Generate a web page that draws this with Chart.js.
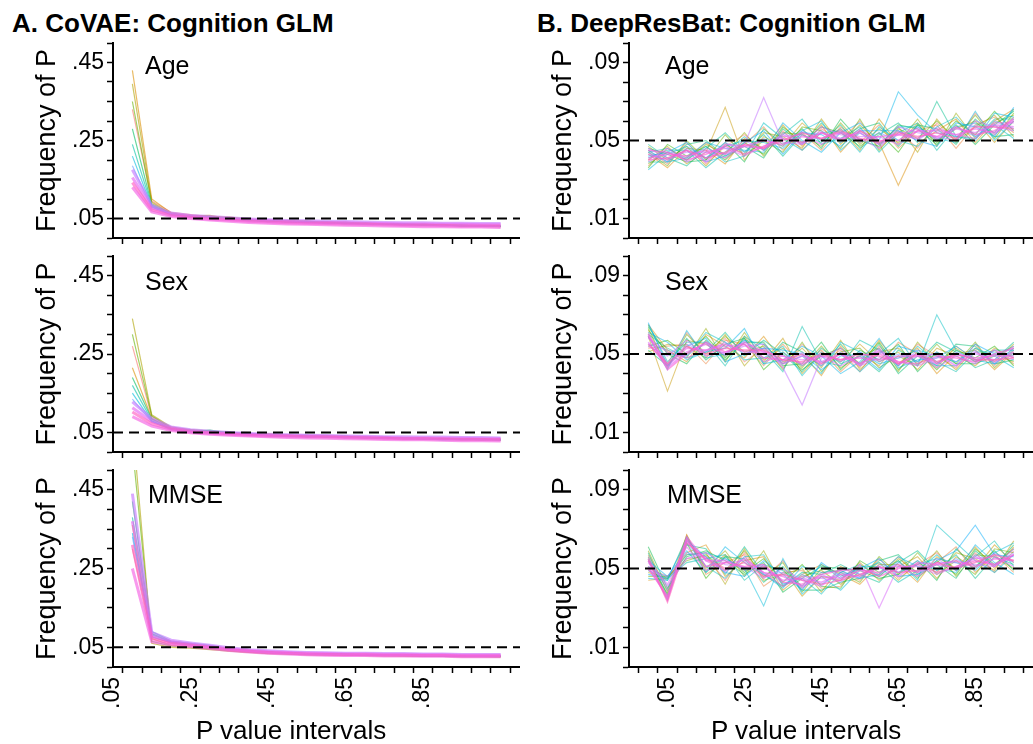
<!DOCTYPE html>
<html>
<head>
<meta charset="utf-8">
<script src="https://cdn.jsdelivr.net/npm/chart.js@4.4.0/dist/chart.umd.min.js"></script>
<style>
  body { margin: 0; background: #fff; width: 1033px; height: 744px; overflow: hidden; position: relative;
         font-family: "Liberation Sans", Arial, Helvetica, sans-serif; }
  canvas { position: absolute; }
  .txt { position: absolute; line-height: 1; white-space: nowrap; color: #000; }
  .titulo { font-weight: bold; font-size: 26px; }
  .painel { font-size: 25px; }
  .eixo { font-size: 26px; }
</style>
</head>
<body>
<div class="txt titulo" style="left:12px;top:10px">A. CoVAE: Cognition GLM</div>
<div class="txt titulo" style="left:537px;top:10px">B. DeepResBat: Cognition GLM</div>

<canvas id="aAge" width="520" height="215" style="left:0;top:30px"></canvas>
<canvas id="aSex" width="520" height="214" style="left:0;top:245px"></canvas>
<canvas id="aMmse" width="520" height="286" style="left:0;top:458px"></canvas>
<canvas id="bAge" width="513" height="215" style="left:520px;top:30px"></canvas>
<canvas id="bSex" width="513" height="214" style="left:520px;top:245px"></canvas>
<canvas id="bMmse" width="513" height="286" style="left:520px;top:458px"></canvas>

<div class="txt painel" style="left:145px;top:53px">Age</div>
<div class="txt painel" style="left:145px;top:269px">Sex</div>
<div class="txt painel" style="left:148px;top:482px">MMSE</div>
<div class="txt painel" style="left:665px;top:53px">Age</div>
<div class="txt painel" style="left:665px;top:269px">Sex</div>
<div class="txt painel" style="left:667px;top:482px">MMSE</div>

<div class="txt eixo" style="left:196px;top:717px">P value intervals</div>
<div class="txt eixo" style="left:711px;top:717px">P value intervals</div>

<script>
// P value bins (x) for each column
var xLeft = [0.10, 0.15, 0.20, 0.25, 0.30, 0.35, 0.40, 0.45, 0.50, 0.55, 0.60, 0.65, 0.70, 0.75, 0.80, 0.85, 0.90, 0.95, 1.00, 1.05];
var xRight = [0.00, 0.05, 0.10, 0.15, 0.20, 0.25, 0.30, 0.35, 0.40, 0.45, 0.50, 0.55, 0.60, 0.65, 0.70, 0.75, 0.80, 0.85, 0.90, 0.95];

var xLabels = ['.05', '.25', '.45', '.65', '.85'];
var xLabelPos = [0.05, 0.25, 0.45, 0.65, 0.85];
var yLabelsLeft = ['.05', '.25', '.45'];
var yLabelPosLeft = [0.05, 0.25, 0.45];
var yLabelsRight = ['.01', '.05', '.09'];
var yLabelPosRight = [0.01, 0.05, 0.09];
var refLevel = 0.05;

// CoVAE
var covaeAge = [
  [.330,.095,.066,.060,.055,.052,.049,.046,.044,.043,.041,.040,.038,.037,.036,.035,.034,.033,.033,.031],
  [.430,.100,.064,.056,.058,.050,.046,.043,.045,.041,.040,.041,.036,.036,.034,.036,.033,.032,.030,.029],
  [.395,.092,.062,.058,.053,.054,.047,.044,.042,.040,.042,.038,.039,.035,.037,.033,.035,.031,.032,.030],
  [.350,.088,.063,.055,.056,.049,.048,.042,.043,.044,.039,.037,.038,.036,.033,.034,.032,.033,.031,.030],
  [.280,.085,.060,.057,.052,.051,.044,.045,.040,.042,.038,.039,.035,.037,.035,.032,.034,.030,.032,.029],
  [.240,.082,.061,.054,.054,.048,.046,.041,.043,.039,.040,.036,.037,.034,.036,.034,.031,.033,.030,.031],
  [.210,.080,.059,.056,.051,.050,.045,.043,.041,.041,.037,.038,.036,.035,.033,.035,.033,.031,.031,.030],
  [.185,.078,.062,.053,.053,.047,.047,.044,.042,.040,.039,.037,.037,.036,.035,.033,.032,.032,.031,.031],
  [.175,.084,.064,.058,.055,.052,.049,.047,.045,.044,.043,.042,.041,.040,.039,.039,.038,.038,.037,.037],
  [.155,.077,.061,.056,.052,.049,.046,.044,.042,.041,.040,.039,.038,.037,.036,.036,.035,.035,.034,.034],
  [.142,.072,.058,.053,.049,.046,.043,.041,.039,.038,.037,.036,.035,.034,.033,.033,.032,.031,.031,.031],
  [.130,.067,.055,.050,.046,.043,.040,.038,.036,.035,.034,.033,.032,.031,.030,.029,.029,.028,.028,.027]
];
var covaeSex = [
  [.270,.090,.062,.055,.050,.048,.046,.044,.042,.041,.040,.039,.037,.036,.036,.035,.034,.033,.033,.032],
  [.215,.086,.060,.053,.052,.047,.045,.047,.041,.040,.041,.038,.038,.035,.034,.036,.033,.034,.032,.031],
  [.340,.095,.064,.056,.051,.050,.044,.043,.043,.039,.039,.040,.036,.037,.035,.033,.035,.032,.031,.033],
  [.300,.092,.061,.057,.054,.048,.047,.042,.040,.042,.038,.037,.039,.034,.036,.034,.032,.033,.034,.030],
  [.190,.084,.059,.052,.056,.049,.043,.045,.044,.038,.040,.041,.035,.036,.033,.035,.034,.031,.032,.031],
  [.170,.080,.058,.050,.049,.051,.046,.041,.042,.043,.037,.038,.037,.038,.035,.032,.033,.034,.031,.032],
  [.150,.078,.057,.054,.048,.046,.048,.044,.039,.041,.042,.036,.038,.035,.037,.034,.031,.032,.033,.030],
  [.135,.077,.060,.053,.050,.047,.044,.043,.041,.040,.039,.038,.036,.036,.035,.034,.033,.033,.032,.032],
  [.128,.085,.064,.057,.053,.050,.047,.045,.044,.043,.042,.041,.040,.039,.039,.038,.038,.037,.037,.036],
  [.113,.078,.061,.054,.050,.047,.045,.043,.042,.041,.040,.039,.038,.037,.036,.036,.035,.035,.034,.034],
  [.102,.072,.058,.051,.048,.045,.043,.041,.040,.039,.038,.037,.036,.035,.034,.034,.033,.032,.032,.031],
  [.090,.066,.055,.049,.045,.043,.041,.039,.037,.036,.035,.034,.033,.032,.031,.031,.030,.029,.029,.028]
];
var covaeMmse = [
  [.300,.078,.060,.055,.050,.044,.040,.037,.035,.034,.033,.032,.031,.030,.030,.029,.029,.028,.028,.027],
  [.360,.072,.055,.052,.047,.041,.038,.036,.034,.033,.032,.031,.030,.030,.029,.028,.028,.027,.027,.027],
  [.620,.060,.050,.048,.044,.040,.037,.034,.033,.031,.031,.030,.029,.028,.028,.028,.027,.026,.026,.026],
  [.560,.065,.053,.050,.046,.042,.039,.035,.033,.032,.031,.030,.030,.029,.028,.027,.027,.026,.026,.025],
  [.420,.085,.064,.058,.052,.045,.041,.038,.036,.034,.033,.032,.031,.031,.030,.029,.028,.028,.027,.027],
  [.380,.090,.066,.060,.055,.047,.042,.039,.036,.034,.033,.033,.032,.031,.030,.030,.029,.028,.028,.028],
  [.340,.082,.063,.056,.053,.046,.041,.038,.035,.034,.033,.032,.031,.030,.030,.029,.029,.028,.027,.028],
  [.330,.076,.062,.056,.051,.045,.040,.037,.035,.034,.033,.032,.031,.030,.030,.029,.029,.028,.028,.028],
  [.440,.088,.068,.061,.055,.049,.044,.041,.039,.037,.036,.035,.035,.034,.034,.033,.033,.032,.032,.032],
  [.370,.079,.064,.058,.052,.046,.042,.039,.037,.035,.034,.033,.033,.032,.032,.031,.031,.030,.030,.030],
  [.310,.072,.060,.055,.050,.044,.040,.037,.035,.033,.032,.031,.031,.030,.030,.029,.029,.028,.028,.028],
  [.250,.064,.056,.052,.047,.042,.038,.035,.033,.031,.030,.029,.029,.028,.028,.027,.027,.026,.026,.026]
];

// DeepResBat
var drbAge = [
  [.045,.038,.049,.038,.047,.053,.045,.055,.045,.056,.050,.060,.046,.055,.046,.059,.050,.064,.053,.062],
  [.037,.046,.041,.049,.041,.048,.057,.045,.054,.045,.057,.049,.058,.046,.055,.058,.046,.058,.062,.054],
  [.043,.036,.046,.045,.038,.051,.046,.058,.047,.058,.044,.055,.049,.027,.048,.055,.061,.049,.060,.066],
  [.040,.047,.038,.044,.067,.040,.052,.047,.059,.050,.056,.045,.061,.048,.059,.050,.056,.060,.049,.060],
  [.047,.040,.047,.037,.048,.043,.054,.052,.046,.061,.048,.058,.048,.057,.044,.061,.049,.057,.063,.052],
  [.038,.044,.040,.048,.043,.054,.042,.054,.053,.047,.059,.048,.056,.049,.061,.047,.064,.051,.059,.063],
  [.044,.037,.050,.040,.053,.042,.050,.044,.057,.055,.046,.061,.045,.056,.051,.060,.051,.063,.051,.064],
  [.036,.048,.042,.047,.040,.049,.043,.057,.049,.057,.054,.047,.054,.044,.058,.049,.060,.053,.065,.055],
  [.046,.043,.039,.040,.049,.039,.056,.048,.056,.046,.061,.050,.047,.058,.056,.048,.058,.048,.058,.065],
  [.039,.039,.048,.050,.042,.047,.041,.056,.048,.059,.049,.056,.059,.047,.058,.056,.048,.061,.052,.053],
  [.048,.041,.037,.046,.054,.044,.053,.042,.053,.049,.058,.046,.053,.059,.049,.070,.052,.051,.061,.061],
  [.041,.045,.045,.036,.044,.052,.045,.053,.061,.048,.051,.057,.044,.054,.059,.045,.057,.059,.054,.066],
  [.044,.046,.040,.047,.039,.042,.059,.051,.045,.054,.055,.044,.057,.050,.047,.057,.062,.052,.058,.051],
  [.035,.043,.047,.041,.047,.050,.049,.046,.055,.060,.045,.054,.048,.057,.057,.051,.049,.065,.050,.060],
  [.045,.039,.041,.049,.046,.045,.044,.059,.050,.044,.054,.059,.050,.075,.063,.054,.052,.050,.064,.062],
  [.042,.044,.049,.039,.042,.049,.055,.043,.054,.053,.047,.055,.055,.055,.050,.047,.059,.057,.052,.067],
  [.044,.039,.046,.041,.049,.044,.051,.047,.055,.050,.056,.049,.054,.050,.057,.050,.057,.052,.060,.056],
  [.039,.044,.041,.046,.043,.050,.045,.054,.049,.055,.049,.056,.049,.055,.050,.057,.052,.058,.053,.061],
  [.046,.041,.044,.044,.041,.048,.072,.049,.048,.057,.053,.051,.046,.057,.054,.052,.050,.060,.057,.055],
  [.040,.046,.039,.044,.046,.042,.047,.052,.053,.048,.054,.052,.052,.048,.055,.055,.053,.051,.059,.059],
  [.043,.040,.045,.039,.048,.047,.046,.053,.048,.054,.051,.054,.048,.053,.056,.051,.056,.054,.058,.057],
  [.041,.043,.042,.045,.043,.047,.050,.048,.052,.051,.054,.050,.052,.053,.051,.056,.053,.056,.054,.060],
  [.045,.044,.040,.043,.047,.043,.047,.051,.049,.054,.050,.055,.050,.050,.055,.052,.057,.053,.055,.061],
  [.040,.041,.045,.041,.044,.048,.046,.050,.054,.051,.055,.051,.049,.054,.052,.054,.051,.057,.057,.056]
];
var drbSex = [
  [.061,.045,.061,.049,.058,.046,.053,.043,.055,.045,.052,.041,.054,.044,.055,.049,.043,.055,.044,.053],
  [.053,.054,.055,.045,.057,.055,.044,.055,.044,.052,.041,.050,.044,.056,.050,.043,.054,.047,.052,.045],
  [.065,.052,.046,.060,.054,.048,.059,.046,.050,.039,.054,.043,.057,.045,.053,.040,.050,.052,.042,.051],
  [.059,.031,.057,.055,.049,.059,.046,.058,.040,.051,.046,.055,.046,.051,.042,.053,.049,.044,.053,.048],
  [.051,.055,.054,.048,.060,.044,.055,.045,.053,.043,.057,.042,.051,.053,.045,.050,.042,.053,.046,.055],
  [.062,.051,.048,.063,.046,.061,.047,.053,.043,.054,.043,.049,.053,.041,.056,.045,.053,.046,.050,.046],
  [.063,.043,.060,.050,.059,.051,.054,.042,.056,.041,.051,.053,.043,.049,.044,.055,.045,.056,.043,.052],
  [.054,.057,.050,.059,.048,.058,.042,.051,.042,.049,.053,.045,.056,.042,.051,.042,.052,.048,.054,.044],
  [.064,.050,.045,.057,.047,.056,.056,.044,.045,.056,.042,.052,.047,.055,.041,.051,.045,.045,.049,.054],
  [.052,.044,.058,.047,.055,.058,.045,.056,.051,.044,.055,.044,.055,.040,.049,.044,.055,.054,.045,.047],
  [.060,.053,.048,.051,.061,.049,.057,.050,.041,.053,.045,.049,.041,.052,.046,.056,.051,.043,.047,.056],
  [.065,.046,.056,.056,.044,.059,.052,.041,.064,.046,.044,.057,.052,.044,.054,.046,.041,.051,.051,.049],
  [.050,.050,.049,.061,.056,.047,.048,.054,.039,.050,.050,.041,.050,.058,.044,.070,.052,.046,.052,.052],
  [.059,.042,.062,.048,.050,.057,.055,.045,.049,.040,.056,.051,.045,.048,.052,.049,.046,.053,.049,.043],
  [.061,.056,.047,.051,.053,.063,.045,.047,.054,.049,.040,.046,.058,.043,.047,.048,.054,.047,.045,.053],
  [.066,.044,.054,.058,.046,.050,.053,.052,.050,.042,.049,.050,.042,.054,.051,.044,.044,.055,.050,.050],
  [.055,.052,.049,.056,.049,.057,.048,.051,.044,.051,.046,.051,.046,.050,.046,.051,.046,.052,.045,.052],
  [.060,.045,.055,.051,.056,.050,.053,.046,.051,.044,.051,.045,.053,.044,.052,.045,.051,.047,.050,.047],
  [.054,.049,.057,.049,.051,.054,.055,.043,.024,.048,.053,.044,.048,.048,.050,.043,.049,.050,.047,.054],
  [.058,.051,.048,.052,.054,.055,.046,.049,.047,.049,.044,.049,.051,.046,.044,.048,.049,.045,.052,.048],
  [.056,.043,.051,.055,.050,.056,.051,.045,.049,.046,.050,.044,.052,.045,.049,.050,.044,.051,.046,.051],
  [.059,.044,.053,.052,.055,.051,.051,.049,.045,.049,.047,.048,.047,.049,.049,.045,.050,.048,.049,.049],
  [.060,.042,.050,.056,.051,.055,.048,.047,.050,.045,.050,.045,.050,.046,.045,.049,.048,.046,.050,.053],
  [.055,.045,.054,.050,.053,.052,.052,.047,.046,.050,.047,.050,.049,.045,.050,.046,.050,.047,.047,.048]
];
var drbMmse = [
  [.050,.046,.055,.056,.044,.058,.045,.054,.040,.048,.049,.044,.055,.045,.052,.058,.049,.058,.048,.059],
  [.057,.039,.067,.047,.053,.057,.041,.048,.049,.040,.041,.052,.047,.056,.046,.053,.061,.048,.057,.048],
  [.044,.045,.058,.062,.046,.054,.056,.039,.047,.052,.047,.042,.052,.052,.043,.056,.050,.061,.050,.061],
  [.056,.035,.067,.049,.057,.049,.051,.050,.036,.046,.044,.053,.044,.051,.056,.045,.056,.050,.062,.053],
  [.048,.045,.057,.058,.042,.060,.044,.047,.050,.038,.051,.046,.053,.044,.053,.048,.058,.055,.049,.064],
  [.059,.038,.065,.050,.059,.046,.059,.041,.046,.049,.042,.050,.046,.055,.048,.059,.046,.057,.056,.050],
  [.046,.046,.054,.057,.049,.059,.046,.053,.038,.050,.048,.043,.056,.047,.058,.047,.054,.047,.060,.058],
  [.054,.037,.063,.045,.056,.048,.055,.043,.052,.041,.040,.054,.048,.054,.045,.054,.047,.060,.052,.060],
  [.061,.040,.056,.059,.054,.047,.053,.038,.045,.051,.050,.049,.045,.047,.054,.044,.060,.051,.059,.049],
  [.049,.044,.066,.048,.056,.055,.043,.051,.039,.039,.043,.045,.054,.057,.047,.052,.045,.059,.051,.062],
  [.058,.036,.062,.060,.047,.061,.047,.041,.048,.047,.052,.047,.043,.053,.059,.049,.057,.045,.056,.052],
  [.051,.045,.053,.055,.057,.044,.052,.049,.041,.052,.045,.051,.051,.043,.049,.057,.049,.056,.064,.051],
  [.055,.034,.066,.051,.045,.056,.057,.042,.045,.037,.048,.052,.046,.054,.044,.072,.063,.054,.048,.057],
  [.045,.044,.057,.058,.055,.050,.031,.055,.037,.046,.039,.049,.053,.048,.052,.055,.053,.049,.058,.063],
  [.054,.046,.059,.048,.061,.053,.047,.040,.051,.048,.049,.045,.047,.056,.051,.050,.048,.062,.053,.047],
  [.047,.045,.064,.056,.048,.046,.054,.047,.039,.053,.046,.050,.055,.046,.047,.054,.059,.072,.057,.056],
  [.056,.039,.063,.051,.055,.049,.052,.042,.047,.042,.048,.045,.052,.048,.054,.049,.055,.050,.058,.053],
  [.049,.046,.058,.056,.048,.056,.047,.048,.040,.047,.043,.050,.047,.053,.048,.055,.049,.057,.052,.058],
  [.053,.041,.055,.058,.052,.051,.045,.050,.044,.041,.050,.047,.050,.051,.046,.053,.053,.052,.051,.060],
  [.054,.042,.061,.049,.053,.054,.048,.041,.046,.045,.044,.052,.030,.051,.051,.047,.051,.055,.056,.051],
  [.051,.035,.064,.054,.054,.050,.051,.044,.045,.043,.047,.046,.051,.046,.053,.052,.050,.056,.051,.057],
  [.054,.034,.066,.054,.049,.055,.048,.046,.041,.046,.045,.049,.048,.052,.048,.052,.054,.051,.055,.054],
  [.050,.036,.065,.051,.053,.051,.052,.043,.042,.047,.049,.050,.046,.050,.052,.048,.051,.054,.052,.057],
  [.055,.033,.063,.055,.050,.053,.046,.047,.044,.042,.044,.047,.051,.048,.049,.053,.050,.053,.057,.054]
];

var coresA = ['#F8766D99', '#DB8E0099', '#AEA20099', '#64B20099', '#00BD5C99', '#00C1A799', '#00BADE99', '#619CFF99',
              '#C77CFFA8', '#E76BF3A8', '#FF61C3A8', '#F564E3A8'];
var largA = [1.2, 1.2, 1.2, 1.2, 1.2, 1.2, 1.2, 1.2, 3, 3, 3, 3];
var coresB = ['#F8766D80', '#EC823980', '#DB8E0080', '#C7980080', '#AFA10080', '#94AA0080', '#6FB10080', '#2CB60080',
              '#00BA4280', '#00BD6D80', '#00BF8E80', '#00C0AB80', '#00BFC480', '#00BCDA80', '#00B6EC80', '#00ACFC80',
              '#619CFF80', '#9590FF80', '#C77CFF90', '#DC71FA90', '#E36EF6A0', '#F166E8A0', '#FB61D7A0', '#FF62BCA0'];
var largB = [1.1, 1.1, 1.1, 1.1, 1.1, 1.1, 1.1, 1.1, 1.1, 1.1, 1.1, 1.1,
             1.1, 1.1, 1.1, 1.1, 1.1, 1.1, 1.3, 1.3, 1.6, 1.6, 1.6, 1.6];

Chart.defaults.font.family = '"Liberation Sans", Arial, Helvetica, sans-serif';
Chart.defaults.color = '#000';

function perto(lista, v) {
  for (var k = 0; k < lista.length; k++) {
    if (Math.abs(lista[k] - v) < 0.001) return k;
  }
  return -1;
}

function grafico(id, lado, series, cores, larguras, padTop, xAltura, comRotulos) {
  var xs = lado == 'esq' ? xLeft : xRight;
  var xMin = lado == 'esq' ? 0.05 : -0.05;
  var xMax = lado == 'esq' ? 1.10 : 1.00;
  var yMax = lado == 'esq' ? 0.5 : 0.1;
  var passo = lado == 'esq' ? 0.05 : 0.01;
  var yPos = lado == 'esq' ? yLabelPosLeft : yLabelPosRight;
  var yTxt = lado == 'esq' ? yLabelsLeft : yLabelsRight;

  var datasets = [];
  for (var i = 0; i < series.length; i++) {
    var pts = [];
    for (var j = 0; j < xs.length; j++) pts.push({x: xs[j], y: series[i][j]});
    datasets.push({
      data: pts, borderColor: cores[i], borderWidth: larguras[i],
      pointRadius: 0, tension: 0, order: series.length - i + 1
    });
  }
  // dashed line at .05
  datasets.push({
    data: [{x: xMin, y: refLevel}, {x: xMax, y: refLevel}],
    borderColor: '#000', borderWidth: 2, borderDash: [10, 6], pointRadius: 0, order: 0
  });

  var ctx = document.getElementById(id).getContext('2d');
  return new Chart(ctx, {
    type: 'line',
    data: {datasets: datasets},
    options: {
      responsive: false,
      animation: false,
      devicePixelRatio: 1,
      layout: {padding: {top: padTop, left: 0, right: 0, bottom: 0}},
      plugins: {legend: {display: false}, tooltip: {enabled: false}},
      scales: {
        x: {
          type: 'linear', min: xMin, max: xMax,
          afterBuildTicks: function (scale) {
            var t = [];
            var ini = xMin + 0.025;
            for (var k = 0; k <= 20; k++) t.push({value: Math.round((ini + k * 0.05) * 1000) / 1000});
            for (var k = 0; k < xLabelPos.length; k++) t.push({value: xLabelPos[k]});
            t.sort(function (a, b) { return a.value - b.value; });
            scale.ticks = t;
          },
          afterFit: function (scale) {
            scale.height = xAltura;
            scale.paddingLeft = 0;
            scale.paddingRight = 0;
          },
          border: {display: true, color: '#000', width: 2},
          grid: {
            drawOnChartArea: false, drawTicks: true, tickLength: 6, tickWidth: 1.5,
            tickColor: function (c) { return perto(xLabelPos, c.tick.value) >= 0 ? 'rgba(0,0,0,0)' : '#000'; }
          },
          ticks: {
            autoSkip: false, minRotation: 90, maxRotation: 90, padding: 4, color: '#000',
            font: {size: 23},
            callback: function (v) {
              var k = perto(xLabelPos, v);
              return (comRotulos && k >= 0) ? xLabels[k] : '';
            }
          }
        },
        y: {
          min: 0, max: yMax,
          afterBuildTicks: function (scale) {
            var t = [];
            var n = Math.round(yMax / passo);
            for (var k = 0; k <= n; k++) t.push({value: Math.round(k * passo * 1000) / 1000});
            scale.ticks = t;
          },
          afterFit: function (scale) {
            scale.width = lado == 'esq' ? 113 : 109;
            scale.paddingTop = 0;
            scale.paddingBottom = 0;
          },
          border: {display: true, color: '#000', width: 2},
          grid: {drawOnChartArea: false, drawTicks: true, tickLength: 6, tickWidth: 1.5, tickColor: '#000'},
          ticks: {
            autoSkip: false, padding: 3, color: '#000', font: {size: 23},
            callback: function (v) {
              var k = perto(yPos, v);
              return k >= 0 ? yTxt[k] : '';
            }
          },
          title: {
            display: true, text: 'Frequency of P', color: '#000', font: {size: 27},
            padding: {top: lado == 'esq' ? 31 : 27, bottom: 0}
          }
        }
      }
    }
  });
}

grafico('aAge', 'esq', covaeAge, coresA, largA, 13, 7, false);
grafico('aSex', 'esq', covaeSex, coresA, largA, 11, 7, false);
grafico('aMmse', 'esq', covaeMmse, coresA, largA, 12, 77, true);
grafico('bAge', 'dir', drbAge, coresB, largB, 13, 7, false);
grafico('bSex', 'dir', drbSex, coresB, largB, 11, 7, false);
grafico('bMmse', 'dir', drbMmse, coresB, largB, 12, 77, true);
</script>
</body>
</html>
